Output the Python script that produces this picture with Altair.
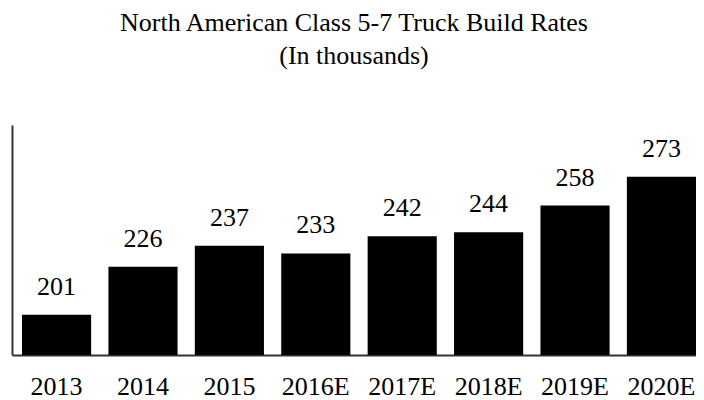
import altair as alt
import pandas as pd

years = ["2013", "2014", "2015", "2016E", "2017E", "2018E", "2019E", "2020E"]
values = [201, 226, 237, 233, 242, 244, 258, 273]

df = pd.DataFrame({"year": years, "value": values})

FONT = "Liberation Serif"

x = alt.X("year:N", sort=years, title=None,
          scale=alt.Scale(paddingInner=0.2, paddingOuter=0.0579, align=1),
          axis=alt.Axis(labelAngle=0, labelFont=FONT, labelFontSize=26, labelColor="black",
                        ticks=False, domain=True, domainColor="#333", domainWidth=2,
                        labelPadding=18))
y = alt.Y("value:Q", title=None,
          scale=alt.Scale(domain=[180, 300], nice=False, zero=False),
          axis=alt.Axis(labels=False, ticks=False, grid=False, domain=True,
                        domainColor="#333", domainWidth=2))

bars = alt.Chart(df).mark_bar(color="black", clip=True).encode(x=x, y=y)
text = alt.Chart(df).mark_text(baseline="bottom", dy=-15, font=FONT, fontSize=26, color="black").encode(
    x=alt.X("year:N", sort=years), y="value:Q", text="value:Q")

chart = (bars + text).properties(
    width=684, height=230,
    title=alt.Title(["North American Class 5-7 Truck Build Rates", "(In thousands)"],
                    font=FONT, fontSize=26, fontWeight="normal", color="black",
                    lineHeight=33, anchor="middle", offset=56),
    autosize=alt.AutoSizeParams(type="none"),
    padding={"left": 4, "top": 117, "right": 0, "bottom": 47},
).configure_view(stroke=None).configure_text(font=FONT)

chart.save("out.html", embed_options={"renderer": "svg", "actions": False})
